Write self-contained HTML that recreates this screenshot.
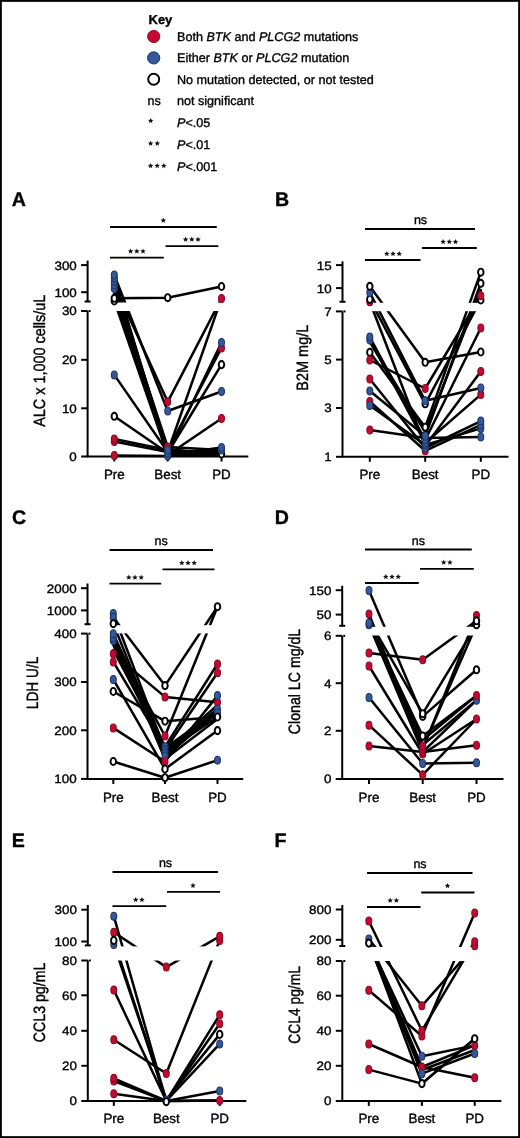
<!DOCTYPE html><html><head><meta charset="utf-8"><style>html,body{margin:0;padding:0;background:#fff}svg{display:block;will-change:transform}text{stroke:#000;stroke-width:0.35px}</style></head><body><svg width="520" height="1138" viewBox="0 0 520 1138" font-family="'Liberation Sans', sans-serif" text-rendering="geometricPrecision"><rect x="0" y="0" width="520" height="1138" fill="#fff"/><rect x="0.9" y="0.9" width="518.2" height="1136.2" fill="none" stroke="#000" stroke-width="1.9"/><text x="148.5" y="23.5" font-size="13" font-weight="bold">Key</text><circle cx="153.7" cy="36.5" r="6.1" fill="#c20a32" stroke="#8a0a22" stroke-width="1"/><circle cx="153.7" cy="57.9" r="6.1" fill="#35589a" stroke="#1f3566" stroke-width="1"/><circle cx="153.7" cy="79.3" r="5.5" fill="#fff" stroke="#000" stroke-width="1.9"/><text x="177" y="40.8" font-size="12.6">Both <tspan font-style="italic">BTK</tspan> and <tspan font-style="italic">PLCG2</tspan> mutations</text><text x="177" y="62.3" font-size="12.6">Either <tspan font-style="italic">BTK</tspan> or <tspan font-style="italic">PLCG2</tspan> mutation</text><text x="177" y="83.8" font-size="12.6">No mutation detected, or not tested</text><text x="147.5" y="105.4" font-size="12.6">ns</text><text x="177" y="105.4" font-size="12.6">not significant</text><polygon points="150.70,117.90 151.47,119.74 153.46,119.90 151.94,121.20 152.40,123.15 150.70,122.11 149.00,123.15 149.46,121.20 147.94,119.90 149.93,119.74" fill="#111"/><text x="177" y="126.6" font-size="12.6"><tspan font-style="italic">P</tspan>&lt;.05</text><polygon points="150.60,140.60 151.37,142.44 153.36,142.60 151.84,143.90 152.30,145.85 150.60,144.81 148.90,145.85 149.36,143.90 147.84,142.60 149.83,142.44" fill="#111"/><polygon points="157.30,140.60 158.07,142.44 160.06,142.60 158.54,143.90 159.00,145.85 157.30,144.81 155.60,145.85 156.06,143.90 154.54,142.60 156.53,142.44" fill="#111"/><text x="177" y="148.8" font-size="12.6"><tspan font-style="italic">P</tspan>&lt;.01</text><polygon points="150.60,162.90 151.37,164.74 153.36,164.90 151.84,166.20 152.30,168.15 150.60,167.11 148.90,168.15 149.36,166.20 147.84,164.90 149.83,164.74" fill="#111"/><polygon points="157.20,162.90 157.97,164.74 159.96,164.90 158.44,166.20 158.90,168.15 157.20,167.11 155.50,168.15 155.96,166.20 154.44,164.90 156.43,164.74" fill="#111"/><polygon points="163.80,162.90 164.57,164.74 166.56,164.90 165.04,166.20 165.50,168.15 163.80,167.11 162.10,168.15 162.56,166.20 161.04,164.90 163.03,164.74" fill="#111"/><text x="177" y="171.2" font-size="12.6"><tspan font-style="italic">P</tspan>&lt;.001</text><text x="11.8" y="205.5" font-size="19.6" font-weight="bold">A</text><line x1="110" y1="227" x2="216.8" y2="227" stroke="#000" stroke-width="1.8"/><polygon points="163.30,217.60 164.07,219.44 166.06,219.60 164.54,220.90 165.00,222.85 163.30,221.81 161.60,222.85 162.06,220.90 160.54,219.60 162.53,219.44" fill="#111"/><line x1="165.5" y1="246.2" x2="218.3" y2="246.2" stroke="#000" stroke-width="1.8"/><polygon points="185.60,236.60 186.37,238.44 188.36,238.60 186.84,239.90 187.30,241.85 185.60,240.81 183.90,241.85 184.36,239.90 182.84,238.60 184.83,238.44" fill="#111"/><polygon points="191.80,236.60 192.57,238.44 194.56,238.60 193.04,239.90 193.50,241.85 191.80,240.81 190.10,241.85 190.56,239.90 189.04,238.60 191.03,238.44" fill="#111"/><polygon points="198.00,236.60 198.77,238.44 200.76,238.60 199.24,239.90 199.70,241.85 198.00,240.81 196.30,241.85 196.76,239.90 195.24,238.60 197.23,238.44" fill="#111"/><line x1="110" y1="257.6" x2="163.8" y2="257.6" stroke="#000" stroke-width="1.8"/><polygon points="130.60,248.40 131.37,250.24 133.36,250.40 131.84,251.70 132.30,253.65 130.60,252.61 128.90,253.65 129.36,251.70 127.84,250.40 129.83,250.24" fill="#111"/><polygon points="136.80,248.40 137.57,250.24 139.56,250.40 138.04,251.70 138.50,253.65 136.80,252.61 135.10,253.65 135.56,251.70 134.04,250.40 136.03,250.24" fill="#111"/><polygon points="143.00,248.40 143.77,250.24 145.76,250.40 144.24,251.70 144.70,253.65 143.00,252.61 141.30,253.65 141.76,251.70 140.24,250.40 142.23,250.24" fill="#111"/><g stroke="#000" stroke-width="2.5" fill="none" stroke-linejoin="round" stroke-linecap="round"><polyline points="114.3,275 167.7,411 221.5,391.5"/><polyline points="114.3,285 167.7,401.8 221.5,298.4"/><polyline points="114.3,277 167.7,452 221.5,298.4"/><polyline points="114.3,276 167.7,456 221.5,454"/><polyline points="114.3,280 167.7,454 221.5,342.5"/><polyline points="114.3,283 167.7,450 221.5,348"/><polyline points="114.3,285 167.7,447 221.5,450"/><polyline points="114.3,286 167.7,453 221.5,364.6"/><polyline points="114.3,289 167.7,455 221.5,418.5"/><polyline points="114.3,293 167.7,451 221.5,452"/><polyline points="114.3,296 167.7,449 221.5,455"/><polyline points="114.3,301 167.7,455 221.5,447.5"/><polyline points="114.3,298.3 167.7,297.7 221.5,286.5"/><polyline points="114.3,374.9 167.7,452 221.5,450"/><polyline points="114.3,416.3 167.7,453 221.5,452"/><polyline points="114.3,439 167.7,450 221.5,453"/><polyline points="114.3,441.5 167.7,452 221.5,455"/><polyline points="114.3,455.4 167.7,456 221.5,454"/></g><rect x="89.1" y="302.5" width="160.70000000000002" height="8.5" fill="#fff"/><g stroke="#000" stroke-width="2" fill="none"><line x1="87.6" y1="260.6" x2="87.6" y2="301.5"/><line x1="84.6" y1="301.5" x2="90.6" y2="301.5"/><line x1="87.6" y1="311" x2="87.6" y2="456.5"/><line x1="88.6" y1="311" x2="90.6" y2="311"/><line x1="86.6" y1="456.5" x2="248.3" y2="456.5"/><line x1="81.1" y1="265.1" x2="87.6" y2="265.1"/><line x1="81.1" y1="292.2" x2="87.6" y2="292.2"/><line x1="81.1" y1="311" x2="87.6" y2="311"/><line x1="81.1" y1="359.8" x2="87.6" y2="359.8"/><line x1="81.1" y1="408.3" x2="87.6" y2="408.3"/><line x1="81.1" y1="456.5" x2="87.6" y2="456.5"/><line x1="114.3" y1="456.5" x2="114.3" y2="461.5"/><line x1="167.7" y1="456.5" x2="167.7" y2="461.5"/><line x1="221.5" y1="456.5" x2="221.5" y2="461.5"/></g><text transform="translate(76.8,269.5) scale(1.1,1)" font-size="12.2" text-anchor="end">300</text><text transform="translate(76.8,296.59999999999997) scale(1.1,1)" font-size="12.2" text-anchor="end">100</text><text transform="translate(76.8,315.4) scale(1.1,1)" font-size="12.2" text-anchor="end">30</text><text transform="translate(76.8,364.2) scale(1.1,1)" font-size="12.2" text-anchor="end">20</text><text transform="translate(76.8,412.7) scale(1.1,1)" font-size="12.2" text-anchor="end">10</text><text transform="translate(76.8,460.9) scale(1.1,1)" font-size="12.2" text-anchor="end">0</text><text x="114.3" y="478.6" font-size="13.4" text-anchor="middle">Pre</text><text x="167.7" y="478.6" font-size="13.4" text-anchor="middle">Best</text><text x="221.5" y="478.6" font-size="13.4" text-anchor="middle">PD</text><text transform="translate(45.4,360.75) scale(1.12,1) rotate(-90)" font-size="14.6" text-anchor="middle" textLength="132" lengthAdjust="spacingAndGlyphs">ALC x 1,000 cells/uL</text><ellipse cx="114.3" cy="288.5" rx="2.95" ry="3.95" fill="#35589a" stroke="#1f3566" stroke-width="1.1"/><ellipse cx="114.3" cy="285" rx="2.95" ry="3.95" fill="#35589a" stroke="#1f3566" stroke-width="1.1"/><ellipse cx="114.3" cy="281.5" rx="2.95" ry="3.95" fill="#35589a" stroke="#1f3566" stroke-width="1.1"/><ellipse cx="114.3" cy="278" rx="2.95" ry="3.95" fill="#35589a" stroke="#1f3566" stroke-width="1.1"/><ellipse cx="114.3" cy="275" rx="2.95" ry="3.95" fill="#35589a" stroke="#1f3566" stroke-width="1.1"/><ellipse cx="114.3" cy="301" rx="2.75" ry="3.6" fill="#fff" stroke="#000" stroke-width="1.9"/><ellipse cx="114.3" cy="298.3" rx="2.75" ry="3.6" fill="#fff" stroke="#000" stroke-width="1.9"/><ellipse cx="167.7" cy="297.7" rx="2.75" ry="3.6" fill="#fff" stroke="#000" stroke-width="1.9"/><ellipse cx="221.5" cy="286.5" rx="2.75" ry="3.6" fill="#fff" stroke="#000" stroke-width="1.9"/><ellipse cx="221.5" cy="298.4" rx="2.95" ry="3.95" fill="#c20a32" stroke="#8a0a22" stroke-width="1.1"/><ellipse cx="114.3" cy="374.9" rx="2.95" ry="3.95" fill="#35589a" stroke="#1f3566" stroke-width="1.1"/><ellipse cx="114.3" cy="416.3" rx="2.75" ry="3.6" fill="#fff" stroke="#000" stroke-width="1.9"/><ellipse cx="114.3" cy="441.5" rx="2.95" ry="3.95" fill="#c20a32" stroke="#8a0a22" stroke-width="1.1"/><ellipse cx="114.3" cy="439" rx="2.95" ry="3.95" fill="#c20a32" stroke="#8a0a22" stroke-width="1.1"/><ellipse cx="114.3" cy="455.4" rx="2.95" ry="3.95" fill="#c20a32" stroke="#8a0a22" stroke-width="1.1"/><ellipse cx="167.7" cy="401.8" rx="2.95" ry="3.95" fill="#c20a32" stroke="#8a0a22" stroke-width="1.1"/><ellipse cx="167.7" cy="411" rx="2.95" ry="3.95" fill="#35589a" stroke="#1f3566" stroke-width="1.1"/><ellipse cx="167.7" cy="447" rx="2.95" ry="3.95" fill="#c20a32" stroke="#8a0a22" stroke-width="1.1"/><ellipse cx="167.7" cy="456" rx="2.95" ry="3.95" fill="#35589a" stroke="#1f3566" stroke-width="1.1"/><ellipse cx="167.7" cy="453" rx="2.95" ry="3.95" fill="#35589a" stroke="#1f3566" stroke-width="1.1"/><ellipse cx="167.7" cy="450" rx="2.95" ry="3.95" fill="#35589a" stroke="#1f3566" stroke-width="1.1"/><ellipse cx="221.5" cy="348" rx="2.95" ry="3.95" fill="#c20a32" stroke="#8a0a22" stroke-width="1.1"/><ellipse cx="221.5" cy="342.5" rx="2.95" ry="3.95" fill="#35589a" stroke="#1f3566" stroke-width="1.1"/><ellipse cx="221.5" cy="364.6" rx="2.75" ry="3.6" fill="#fff" stroke="#000" stroke-width="1.9"/><ellipse cx="221.5" cy="391.5" rx="2.95" ry="3.95" fill="#35589a" stroke="#1f3566" stroke-width="1.1"/><ellipse cx="221.5" cy="418.5" rx="2.95" ry="3.95" fill="#c20a32" stroke="#8a0a22" stroke-width="1.1"/><ellipse cx="221.5" cy="454" rx="2.75" ry="3.6" fill="#fff" stroke="#000" stroke-width="1.9"/><ellipse cx="221.5" cy="450" rx="2.95" ry="3.95" fill="#35589a" stroke="#1f3566" stroke-width="1.1"/><ellipse cx="221.5" cy="447.5" rx="2.95" ry="3.95" fill="#35589a" stroke="#1f3566" stroke-width="1.1"/><text x="275.0" y="205.5" font-size="19.6" font-weight="bold">B</text><line x1="365" y1="229" x2="475" y2="229" stroke="#000" stroke-width="1.8"/><text x="420.5" y="223.8" font-size="12.5" text-anchor="middle">ns</text><line x1="422" y1="248" x2="476.8" y2="248" stroke="#000" stroke-width="1.8"/><polygon points="443.10,238.90 443.87,240.74 445.86,240.90 444.34,242.20 444.80,244.15 443.10,243.11 441.40,244.15 441.86,242.20 440.34,240.90 442.33,240.74" fill="#111"/><polygon points="449.30,238.90 450.07,240.74 452.06,240.90 450.54,242.20 451.00,244.15 449.30,243.11 447.60,244.15 448.06,242.20 446.54,240.90 448.53,240.74" fill="#111"/><polygon points="455.50,238.90 456.27,240.74 458.26,240.90 456.74,242.20 457.20,244.15 455.50,243.11 453.80,244.15 454.26,242.20 452.74,240.90 454.73,240.74" fill="#111"/><line x1="365" y1="260" x2="420.5" y2="260" stroke="#000" stroke-width="1.8"/><polygon points="386.80,250.90 387.57,252.74 389.56,252.90 388.04,254.20 388.50,256.15 386.80,255.11 385.10,256.15 385.56,254.20 384.04,252.90 386.03,252.74" fill="#111"/><polygon points="393.00,250.90 393.77,252.74 395.76,252.90 394.24,254.20 394.70,256.15 393.00,255.11 391.30,256.15 391.76,254.20 390.24,252.90 392.23,252.74" fill="#111"/><polygon points="399.20,250.90 399.97,252.74 401.96,252.90 400.44,254.20 400.90,256.15 399.20,255.11 397.50,256.15 397.96,254.20 396.44,252.90 398.43,252.74" fill="#111"/><g stroke="#000" stroke-width="2.5" fill="none" stroke-linejoin="round" stroke-linecap="round"><polyline points="369.8,286.3 425.2,362.3 480.8,352"/><polyline points="369.8,292.6 425.2,400.8 480.8,388"/><polyline points="369.8,299.3 425.2,403.8 480.8,300"/><polyline points="369.8,301.7 425.2,446 480.8,371.5"/><polyline points="369.8,337 425.2,440 480.8,328"/><polyline points="369.8,342 425.2,432 480.8,290"/><polyline points="369.8,340 425.2,443 480.8,394.6"/><polyline points="369.8,352.3 425.2,427.2 480.8,272.2"/><polyline points="369.8,360 425.2,388.5 480.8,295.7"/><polyline points="369.8,379 425.2,448 480.8,421.1"/><polyline points="369.8,391 425.2,436 480.8,283.3"/><polyline points="369.8,401.5 425.2,450.8 480.8,424.9"/><polyline points="369.8,405.4 425.2,445 480.8,428.4"/><polyline points="369.8,430 425.2,438 480.8,437"/></g><rect x="344.0" y="302.8" width="166.0" height="8.399999999999977" fill="#fff"/><g stroke="#000" stroke-width="2" fill="none"><line x1="342.5" y1="261.4" x2="342.5" y2="301.8"/><line x1="339.5" y1="301.8" x2="345.5" y2="301.8"/><line x1="342.5" y1="311.4" x2="342.5" y2="456.8"/><line x1="343.5" y1="311.4" x2="345.5" y2="311.4"/><line x1="341.5" y1="456.8" x2="508.5" y2="456.8"/><line x1="336.0" y1="265.1" x2="342.5" y2="265.1"/><line x1="336.0" y1="288.1" x2="342.5" y2="288.1"/><line x1="336.0" y1="311.4" x2="342.5" y2="311.4"/><line x1="336.0" y1="359.6" x2="342.5" y2="359.6"/><line x1="336.0" y1="408" x2="342.5" y2="408"/><line x1="336.0" y1="456.8" x2="342.5" y2="456.8"/><line x1="369.8" y1="456.8" x2="369.8" y2="461.8"/><line x1="425.2" y1="456.8" x2="425.2" y2="461.8"/><line x1="480.8" y1="456.8" x2="480.8" y2="461.8"/></g><text transform="translate(331.7,269.5) scale(1.1,1)" font-size="12.2" text-anchor="end">15</text><text transform="translate(331.7,292.5) scale(1.1,1)" font-size="12.2" text-anchor="end">10</text><text transform="translate(331.7,315.79999999999995) scale(1.1,1)" font-size="12.2" text-anchor="end">7</text><text transform="translate(331.7,364.0) scale(1.1,1)" font-size="12.2" text-anchor="end">5</text><text transform="translate(331.7,412.4) scale(1.1,1)" font-size="12.2" text-anchor="end">3</text><text transform="translate(331.7,461.2) scale(1.1,1)" font-size="12.2" text-anchor="end">1</text><text x="369.8" y="478.6" font-size="13.4" text-anchor="middle">Pre</text><text x="425.2" y="478.6" font-size="13.4" text-anchor="middle">Best</text><text x="480.8" y="478.6" font-size="13.4" text-anchor="middle">PD</text><text transform="translate(307.5,357.7) scale(1.12,1) rotate(-90)" font-size="14.6" text-anchor="middle" textLength="66" lengthAdjust="spacingAndGlyphs">B2M mg/L</text><ellipse cx="369.8" cy="301.7" rx="2.95" ry="3.95" fill="#c20a32" stroke="#8a0a22" stroke-width="1.1"/><ellipse cx="369.8" cy="299.3" rx="2.75" ry="3.6" fill="#fff" stroke="#000" stroke-width="1.9"/><ellipse cx="369.8" cy="292.6" rx="2.95" ry="3.95" fill="#35589a" stroke="#1f3566" stroke-width="1.1"/><ellipse cx="369.8" cy="286.3" rx="2.75" ry="3.6" fill="#fff" stroke="#000" stroke-width="1.9"/><ellipse cx="480.8" cy="300" rx="2.75" ry="3.6" fill="#fff" stroke="#000" stroke-width="1.9"/><ellipse cx="480.8" cy="295.7" rx="2.95" ry="3.95" fill="#c20a32" stroke="#8a0a22" stroke-width="1.1"/><ellipse cx="480.8" cy="283.3" rx="2.75" ry="3.6" fill="#fff" stroke="#000" stroke-width="1.9"/><ellipse cx="480.8" cy="272.2" rx="2.75" ry="3.6" fill="#fff" stroke="#000" stroke-width="1.9"/><ellipse cx="369.8" cy="340" rx="2.95" ry="3.95" fill="#35589a" stroke="#1f3566" stroke-width="1.1"/><ellipse cx="369.8" cy="337" rx="2.95" ry="3.95" fill="#35589a" stroke="#1f3566" stroke-width="1.1"/><ellipse cx="369.8" cy="352.3" rx="2.75" ry="3.6" fill="#fff" stroke="#000" stroke-width="1.9"/><ellipse cx="369.8" cy="360" rx="2.95" ry="3.95" fill="#c20a32" stroke="#8a0a22" stroke-width="1.1"/><ellipse cx="369.8" cy="379" rx="2.95" ry="3.95" fill="#c20a32" stroke="#8a0a22" stroke-width="1.1"/><ellipse cx="369.8" cy="391" rx="2.95" ry="3.95" fill="#35589a" stroke="#1f3566" stroke-width="1.1"/><ellipse cx="369.8" cy="401.5" rx="2.95" ry="3.95" fill="#c20a32" stroke="#8a0a22" stroke-width="1.1"/><ellipse cx="369.8" cy="405.4" rx="2.95" ry="3.95" fill="#35589a" stroke="#1f3566" stroke-width="1.1"/><ellipse cx="369.8" cy="430" rx="2.95" ry="3.95" fill="#c20a32" stroke="#8a0a22" stroke-width="1.1"/><ellipse cx="425.2" cy="362.3" rx="2.75" ry="3.6" fill="#fff" stroke="#000" stroke-width="1.9"/><ellipse cx="425.2" cy="388.5" rx="2.95" ry="3.95" fill="#c20a32" stroke="#8a0a22" stroke-width="1.1"/><ellipse cx="425.2" cy="403.8" rx="2.75" ry="3.6" fill="#fff" stroke="#000" stroke-width="1.9"/><ellipse cx="425.2" cy="400.8" rx="2.95" ry="3.95" fill="#35589a" stroke="#1f3566" stroke-width="1.1"/><ellipse cx="425.2" cy="427.2" rx="2.75" ry="3.6" fill="#fff" stroke="#000" stroke-width="1.9"/><ellipse cx="425.2" cy="450.8" rx="2.95" ry="3.95" fill="#c20a32" stroke="#8a0a22" stroke-width="1.1"/><ellipse cx="425.2" cy="448" rx="2.95" ry="3.95" fill="#35589a" stroke="#1f3566" stroke-width="1.1"/><ellipse cx="425.2" cy="445" rx="2.95" ry="3.95" fill="#35589a" stroke="#1f3566" stroke-width="1.1"/><ellipse cx="425.2" cy="443" rx="2.95" ry="3.95" fill="#35589a" stroke="#1f3566" stroke-width="1.1"/><ellipse cx="425.2" cy="440" rx="2.95" ry="3.95" fill="#35589a" stroke="#1f3566" stroke-width="1.1"/><ellipse cx="425.2" cy="436" rx="2.95" ry="3.95" fill="#35589a" stroke="#1f3566" stroke-width="1.1"/><ellipse cx="480.8" cy="328" rx="2.95" ry="3.95" fill="#c20a32" stroke="#8a0a22" stroke-width="1.1"/><ellipse cx="480.8" cy="352" rx="2.75" ry="3.6" fill="#fff" stroke="#000" stroke-width="1.9"/><ellipse cx="480.8" cy="371.5" rx="2.95" ry="3.95" fill="#c20a32" stroke="#8a0a22" stroke-width="1.1"/><ellipse cx="480.8" cy="394.6" rx="2.95" ry="3.95" fill="#c20a32" stroke="#8a0a22" stroke-width="1.1"/><ellipse cx="480.8" cy="388" rx="2.95" ry="3.95" fill="#35589a" stroke="#1f3566" stroke-width="1.1"/><ellipse cx="480.8" cy="437" rx="2.95" ry="3.95" fill="#35589a" stroke="#1f3566" stroke-width="1.1"/><ellipse cx="480.8" cy="428.4" rx="2.95" ry="3.95" fill="#35589a" stroke="#1f3566" stroke-width="1.1"/><ellipse cx="480.8" cy="424.9" rx="2.95" ry="3.95" fill="#35589a" stroke="#1f3566" stroke-width="1.1"/><ellipse cx="480.8" cy="421.1" rx="2.95" ry="3.95" fill="#35589a" stroke="#1f3566" stroke-width="1.1"/><text x="11.9" y="524.0" font-size="19.6" font-weight="bold">C</text><line x1="109.5" y1="550" x2="213" y2="550" stroke="#000" stroke-width="1.8"/><text x="161.2" y="544.5" font-size="12.5" text-anchor="middle">ns</text><line x1="162.5" y1="569.3" x2="214.5" y2="569.3" stroke="#000" stroke-width="1.8"/><polygon points="181.80,560.10 182.57,561.94 184.56,562.10 183.04,563.40 183.50,565.35 181.80,564.30 180.10,565.35 180.56,563.40 179.04,562.10 181.03,561.94" fill="#111"/><polygon points="188.00,560.10 188.77,561.94 190.76,562.10 189.24,563.40 189.70,565.35 188.00,564.30 186.30,565.35 186.76,563.40 185.24,562.10 187.23,561.94" fill="#111"/><polygon points="194.20,560.10 194.97,561.94 196.96,562.10 195.44,563.40 195.90,565.35 194.20,564.30 192.50,565.35 192.96,563.40 191.44,562.10 193.43,561.94" fill="#111"/><line x1="109.5" y1="583.7" x2="161.2" y2="583.7" stroke="#000" stroke-width="1.8"/><polygon points="128.80,574.60 129.57,576.44 131.56,576.60 130.04,577.90 130.50,579.85 128.80,578.80 127.10,579.85 127.56,577.90 126.04,576.60 128.03,576.44" fill="#111"/><polygon points="135.00,574.60 135.77,576.44 137.76,576.60 136.24,577.90 136.70,579.85 135.00,578.80 133.30,579.85 133.76,577.90 132.24,576.60 134.23,576.44" fill="#111"/><polygon points="141.20,574.60 141.97,576.44 143.96,576.60 142.44,577.90 142.90,579.85 141.20,578.80 139.50,579.85 139.96,577.90 138.44,576.60 140.43,576.44" fill="#111"/><g stroke="#000" stroke-width="2.5" fill="none" stroke-linejoin="round" stroke-linecap="round"><polyline points="113.3,613.5 165.0,750 217.5,672.7"/><polyline points="113.3,617.5 165.0,685.6 217.5,606.7"/><polyline points="113.3,623.7 165.0,753 217.5,709"/><polyline points="113.3,633.7 165.0,746.7 217.5,664"/><polyline points="113.3,637.7 165.0,756 217.5,713"/><polyline points="113.3,640.4 165.0,736 217.5,606.7"/><polyline points="113.3,653.8 165.0,696.9 217.5,702.3"/><polyline points="113.3,661.9 165.0,748 217.5,713"/><polyline points="113.3,679.4 165.0,769 217.5,730.6"/><polyline points="113.3,691.5 165.0,721.2 217.5,717"/><polyline points="113.3,727.9 165.0,761.5 217.5,695.6"/><polyline points="113.3,761.5 165.0,777.7 217.5,760.2"/><polyline points="113.3,636 165.0,752 217.5,717"/><polyline points="113.3,639 165.0,758 217.5,709"/><polyline points="113.3,645 165.0,752 217.5,705"/><polyline points="113.3,650 165.0,748 217.5,711"/><polyline points="113.3,635 165.0,759 217.5,719"/></g><rect x="89.0" y="625.2" width="155.7" height="8.199999999999932" fill="#fff"/><g stroke="#000" stroke-width="2" fill="none"><line x1="87.5" y1="583.5" x2="87.5" y2="624.2"/><line x1="84.5" y1="624.2" x2="90.5" y2="624.2"/><line x1="87.5" y1="633.6" x2="87.5" y2="778.9"/><line x1="88.5" y1="633.6" x2="90.5" y2="633.6"/><line x1="86.5" y1="778.9" x2="243.2" y2="778.9"/><line x1="81.0" y1="588.2" x2="87.5" y2="588.2"/><line x1="81.0" y1="610.4" x2="87.5" y2="610.4"/><line x1="81.0" y1="633.6" x2="87.5" y2="633.6"/><line x1="81.0" y1="682" x2="87.5" y2="682"/><line x1="81.0" y1="730.3" x2="87.5" y2="730.3"/><line x1="81.0" y1="778.9" x2="87.5" y2="778.9"/><line x1="113.3" y1="778.9" x2="113.3" y2="783.9"/><line x1="165.0" y1="778.9" x2="165.0" y2="783.9"/><line x1="217.5" y1="778.9" x2="217.5" y2="783.9"/></g><text transform="translate(76.7,592.6) scale(1.1,1)" font-size="12.2" text-anchor="end">2000</text><text transform="translate(76.7,614.8) scale(1.1,1)" font-size="12.2" text-anchor="end">1000</text><text transform="translate(76.7,638.0) scale(1.1,1)" font-size="12.2" text-anchor="end">400</text><text transform="translate(76.7,686.4) scale(1.1,1)" font-size="12.2" text-anchor="end">300</text><text transform="translate(76.7,734.6999999999999) scale(1.1,1)" font-size="12.2" text-anchor="end">200</text><text transform="translate(76.7,783.3) scale(1.1,1)" font-size="12.2" text-anchor="end">100</text><text x="113.3" y="801.5" font-size="13.4" text-anchor="middle">Pre</text><text x="165.0" y="801.5" font-size="13.4" text-anchor="middle">Best</text><text x="217.5" y="801.5" font-size="13.4" text-anchor="middle">PD</text><text transform="translate(37.8,682.9) scale(1.12,1) rotate(-90)" font-size="14.6" text-anchor="middle" textLength="52.5" lengthAdjust="spacingAndGlyphs">LDH U/L</text><ellipse cx="113.3" cy="613.5" rx="2.95" ry="3.95" fill="#35589a" stroke="#1f3566" stroke-width="1.1"/><ellipse cx="113.3" cy="617.5" rx="2.95" ry="3.95" fill="#35589a" stroke="#1f3566" stroke-width="1.1"/><ellipse cx="113.3" cy="623.7" rx="2.75" ry="3.6" fill="#fff" stroke="#000" stroke-width="1.9"/><ellipse cx="113.3" cy="640.4" rx="2.95" ry="3.95" fill="#35589a" stroke="#1f3566" stroke-width="1.1"/><ellipse cx="113.3" cy="637.7" rx="2.95" ry="3.95" fill="#35589a" stroke="#1f3566" stroke-width="1.1"/><ellipse cx="113.3" cy="633.7" rx="2.95" ry="3.95" fill="#35589a" stroke="#1f3566" stroke-width="1.1"/><ellipse cx="113.3" cy="653.8" rx="2.95" ry="3.95" fill="#c20a32" stroke="#8a0a22" stroke-width="1.1"/><ellipse cx="113.3" cy="661.9" rx="2.95" ry="3.95" fill="#c20a32" stroke="#8a0a22" stroke-width="1.1"/><ellipse cx="113.3" cy="679.4" rx="2.95" ry="3.95" fill="#35589a" stroke="#1f3566" stroke-width="1.1"/><ellipse cx="113.3" cy="691.5" rx="2.75" ry="3.6" fill="#fff" stroke="#000" stroke-width="1.9"/><ellipse cx="113.3" cy="727.9" rx="2.95" ry="3.95" fill="#c20a32" stroke="#8a0a22" stroke-width="1.1"/><ellipse cx="113.3" cy="761.5" rx="2.75" ry="3.6" fill="#fff" stroke="#000" stroke-width="1.9"/><ellipse cx="165.0" cy="685.6" rx="2.75" ry="3.6" fill="#fff" stroke="#000" stroke-width="1.9"/><ellipse cx="165.0" cy="696.9" rx="2.95" ry="3.95" fill="#c20a32" stroke="#8a0a22" stroke-width="1.1"/><ellipse cx="165.0" cy="721.2" rx="2.75" ry="3.6" fill="#fff" stroke="#000" stroke-width="1.9"/><ellipse cx="165.0" cy="736" rx="2.95" ry="3.95" fill="#c20a32" stroke="#8a0a22" stroke-width="1.1"/><ellipse cx="165.0" cy="746.7" rx="2.95" ry="3.95" fill="#35589a" stroke="#1f3566" stroke-width="1.1"/><ellipse cx="165.0" cy="750" rx="2.95" ry="3.95" fill="#35589a" stroke="#1f3566" stroke-width="1.1"/><ellipse cx="165.0" cy="753" rx="2.95" ry="3.95" fill="#35589a" stroke="#1f3566" stroke-width="1.1"/><ellipse cx="165.0" cy="756" rx="2.95" ry="3.95" fill="#35589a" stroke="#1f3566" stroke-width="1.1"/><ellipse cx="165.0" cy="761.5" rx="2.95" ry="3.95" fill="#c20a32" stroke="#8a0a22" stroke-width="1.1"/><ellipse cx="165.0" cy="769" rx="2.75" ry="3.6" fill="#fff" stroke="#000" stroke-width="1.9"/><ellipse cx="165.0" cy="777.7" rx="2.75" ry="3.6" fill="#fff" stroke="#000" stroke-width="1.9"/><ellipse cx="217.5" cy="606.7" rx="2.75" ry="3.6" fill="#fff" stroke="#000" stroke-width="1.9"/><ellipse cx="217.5" cy="672.7" rx="2.95" ry="3.95" fill="#c20a32" stroke="#8a0a22" stroke-width="1.1"/><ellipse cx="217.5" cy="664" rx="2.95" ry="3.95" fill="#c20a32" stroke="#8a0a22" stroke-width="1.1"/><ellipse cx="217.5" cy="702.3" rx="2.95" ry="3.95" fill="#c20a32" stroke="#8a0a22" stroke-width="1.1"/><ellipse cx="217.5" cy="695.6" rx="2.95" ry="3.95" fill="#35589a" stroke="#1f3566" stroke-width="1.1"/><ellipse cx="217.5" cy="709" rx="2.95" ry="3.95" fill="#35589a" stroke="#1f3566" stroke-width="1.1"/><ellipse cx="217.5" cy="713" rx="2.95" ry="3.95" fill="#35589a" stroke="#1f3566" stroke-width="1.1"/><ellipse cx="217.5" cy="717" rx="2.75" ry="3.6" fill="#fff" stroke="#000" stroke-width="1.9"/><ellipse cx="217.5" cy="730.6" rx="2.75" ry="3.6" fill="#fff" stroke="#000" stroke-width="1.9"/><ellipse cx="217.5" cy="760.2" rx="2.95" ry="3.95" fill="#35589a" stroke="#1f3566" stroke-width="1.1"/><text x="274.8" y="524.3" font-size="19.6" font-weight="bold">D</text><line x1="365" y1="549.5" x2="471.8" y2="549.5" stroke="#000" stroke-width="1.8"/><text x="418.3" y="544.5" font-size="12.5" text-anchor="middle">ns</text><line x1="420" y1="568.8" x2="473.8" y2="568.8" stroke="#000" stroke-width="1.8"/><polygon points="443.70,559.60 444.47,561.44 446.46,561.60 444.94,562.90 445.40,564.85 443.70,563.80 442.00,564.85 442.46,562.90 440.94,561.60 442.93,561.44" fill="#111"/><polygon points="449.90,559.60 450.67,561.44 452.66,561.60 451.14,562.90 451.60,564.85 449.90,563.80 448.20,564.85 448.66,562.90 447.14,561.60 449.13,561.44" fill="#111"/><line x1="365" y1="583" x2="418.8" y2="583" stroke="#000" stroke-width="1.8"/><polygon points="385.80,573.90 386.57,575.74 388.56,575.90 387.04,577.20 387.50,579.15 385.80,578.10 384.10,579.15 384.56,577.20 383.04,575.90 385.03,575.74" fill="#111"/><polygon points="392.00,573.90 392.77,575.74 394.76,575.90 393.24,577.20 393.70,579.15 392.00,578.10 390.30,579.15 390.76,577.20 389.24,575.90 391.23,575.74" fill="#111"/><polygon points="398.20,573.90 398.97,575.74 400.96,575.90 399.44,577.20 399.90,579.15 398.20,578.10 396.50,579.15 396.96,577.20 395.44,575.90 397.43,575.74" fill="#111"/><g stroke="#000" stroke-width="2.5" fill="none" stroke-linejoin="round" stroke-linecap="round"><polyline points="369.0,590.6 422.7,716.4 476.5,669.8"/><polyline points="369.0,614 422.7,749 476.5,615.4"/><polyline points="369.0,622.9 422.7,736 476.5,695.6"/><polyline points="369.0,624.8 422.7,752 476.5,700.2"/><polyline points="369.0,620 422.7,713.7 476.5,624.8"/><polyline points="369.0,653 422.7,659.8 476.5,620.8"/><polyline points="369.0,666 422.7,754 476.5,719"/><polyline points="369.0,697.5 422.7,763.5 476.5,762.7"/><polyline points="369.0,725.2 422.7,774.8 476.5,719"/><polyline points="369.0,746 422.7,752 476.5,745.2"/><polyline points="369.0,622 422.7,740 476.5,695.6"/><polyline points="369.0,624 422.7,745 476.5,700.2"/><polyline points="369.0,618 422.7,748 476.5,624.8"/></g><rect x="343.7" y="626.8" width="161.3" height="8.700000000000045" fill="#fff"/><g stroke="#000" stroke-width="2" fill="none"><line x1="342.2" y1="585.7" x2="342.2" y2="625.8"/><line x1="339.2" y1="625.8" x2="345.2" y2="625.8"/><line x1="342.2" y1="635.8" x2="342.2" y2="779.0"/><line x1="343.2" y1="635.8" x2="345.2" y2="635.8"/><line x1="341.2" y1="779.0" x2="503.5" y2="779.0"/><line x1="335.7" y1="590.2" x2="342.2" y2="590.2"/><line x1="335.7" y1="614.6" x2="342.2" y2="614.6"/><line x1="335.7" y1="635.8" x2="342.2" y2="635.8"/><line x1="335.7" y1="683.2" x2="342.2" y2="683.2"/><line x1="335.7" y1="730.8" x2="342.2" y2="730.8"/><line x1="335.7" y1="779.0" x2="342.2" y2="779.0"/><line x1="369.0" y1="779.0" x2="369.0" y2="784.0"/><line x1="422.7" y1="779.0" x2="422.7" y2="784.0"/><line x1="476.5" y1="779.0" x2="476.5" y2="784.0"/></g><text transform="translate(331.4,594.6) scale(1.1,1)" font-size="12.2" text-anchor="end">150</text><text transform="translate(331.4,619.0) scale(1.1,1)" font-size="12.2" text-anchor="end">50</text><text transform="translate(331.4,640.1999999999999) scale(1.1,1)" font-size="12.2" text-anchor="end">6</text><text transform="translate(331.4,687.6) scale(1.1,1)" font-size="12.2" text-anchor="end">4</text><text transform="translate(331.4,735.1999999999999) scale(1.1,1)" font-size="12.2" text-anchor="end">2</text><text transform="translate(331.4,783.4) scale(1.1,1)" font-size="12.2" text-anchor="end">0</text><text x="369.0" y="801.5" font-size="13.4" text-anchor="middle">Pre</text><text x="422.7" y="801.5" font-size="13.4" text-anchor="middle">Best</text><text x="476.5" y="801.5" font-size="13.4" text-anchor="middle">PD</text><text transform="translate(299.8,681.5) scale(1.12,1) rotate(-90)" font-size="14.6" text-anchor="middle" textLength="105.5" lengthAdjust="spacingAndGlyphs">Clonal LC mg/dL</text><ellipse cx="369.0" cy="590.6" rx="2.95" ry="3.95" fill="#35589a" stroke="#1f3566" stroke-width="1.1"/><ellipse cx="369.0" cy="614" rx="2.95" ry="3.95" fill="#c20a32" stroke="#8a0a22" stroke-width="1.1"/><ellipse cx="369.0" cy="624.8" rx="2.95" ry="3.95" fill="#35589a" stroke="#1f3566" stroke-width="1.1"/><ellipse cx="369.0" cy="622.9" rx="2.95" ry="3.95" fill="#35589a" stroke="#1f3566" stroke-width="1.1"/><ellipse cx="369.0" cy="653" rx="2.95" ry="3.95" fill="#c20a32" stroke="#8a0a22" stroke-width="1.1"/><ellipse cx="369.0" cy="666" rx="2.95" ry="3.95" fill="#c20a32" stroke="#8a0a22" stroke-width="1.1"/><ellipse cx="369.0" cy="697.5" rx="2.95" ry="3.95" fill="#35589a" stroke="#1f3566" stroke-width="1.1"/><ellipse cx="369.0" cy="725.2" rx="2.95" ry="3.95" fill="#c20a32" stroke="#8a0a22" stroke-width="1.1"/><ellipse cx="369.0" cy="746" rx="2.95" ry="3.95" fill="#c20a32" stroke="#8a0a22" stroke-width="1.1"/><ellipse cx="422.7" cy="659.8" rx="2.95" ry="3.95" fill="#c20a32" stroke="#8a0a22" stroke-width="1.1"/><ellipse cx="422.7" cy="716.4" rx="2.75" ry="3.6" fill="#fff" stroke="#000" stroke-width="1.9"/><ellipse cx="422.7" cy="713.7" rx="2.75" ry="3.6" fill="#fff" stroke="#000" stroke-width="1.9"/><ellipse cx="422.7" cy="736" rx="2.75" ry="3.6" fill="#fff" stroke="#000" stroke-width="1.9"/><ellipse cx="422.7" cy="754" rx="2.95" ry="3.95" fill="#c20a32" stroke="#8a0a22" stroke-width="1.1"/><ellipse cx="422.7" cy="752" rx="2.95" ry="3.95" fill="#c20a32" stroke="#8a0a22" stroke-width="1.1"/><ellipse cx="422.7" cy="749" rx="2.95" ry="3.95" fill="#c20a32" stroke="#8a0a22" stroke-width="1.1"/><ellipse cx="422.7" cy="746" rx="2.95" ry="3.95" fill="#c20a32" stroke="#8a0a22" stroke-width="1.1"/><ellipse cx="422.7" cy="763.5" rx="2.95" ry="3.95" fill="#35589a" stroke="#1f3566" stroke-width="1.1"/><ellipse cx="422.7" cy="774.8" rx="2.95" ry="3.95" fill="#c20a32" stroke="#8a0a22" stroke-width="1.1"/><ellipse cx="476.5" cy="615.4" rx="2.95" ry="3.95" fill="#c20a32" stroke="#8a0a22" stroke-width="1.1"/><ellipse cx="476.5" cy="624.8" rx="2.75" ry="3.6" fill="#fff" stroke="#000" stroke-width="1.9"/><ellipse cx="476.5" cy="620.8" rx="2.75" ry="3.6" fill="#fff" stroke="#000" stroke-width="1.9"/><ellipse cx="476.5" cy="669.8" rx="2.75" ry="3.6" fill="#fff" stroke="#000" stroke-width="1.9"/><ellipse cx="476.5" cy="700.2" rx="2.95" ry="3.95" fill="#35589a" stroke="#1f3566" stroke-width="1.1"/><ellipse cx="476.5" cy="695.6" rx="2.95" ry="3.95" fill="#c20a32" stroke="#8a0a22" stroke-width="1.1"/><ellipse cx="476.5" cy="719" rx="2.95" ry="3.95" fill="#c20a32" stroke="#8a0a22" stroke-width="1.1"/><ellipse cx="476.5" cy="745.2" rx="2.95" ry="3.95" fill="#c20a32" stroke="#8a0a22" stroke-width="1.1"/><ellipse cx="476.5" cy="762.7" rx="2.95" ry="3.95" fill="#35589a" stroke="#1f3566" stroke-width="1.1"/><text x="11.8" y="846.6" font-size="19.6" font-weight="bold">E</text><line x1="112.5" y1="872" x2="218" y2="872" stroke="#000" stroke-width="1.8"/><text x="165.5" y="867" font-size="12.5" text-anchor="middle">ns</text><line x1="167" y1="891.8" x2="220" y2="891.8" stroke="#000" stroke-width="1.8"/><polygon points="193.00,882.70 193.77,884.54 195.76,884.70 194.24,886.00 194.70,887.95 193.00,886.90 191.30,887.95 191.76,886.00 190.24,884.70 192.23,884.54" fill="#111"/><line x1="112.5" y1="906.2" x2="166.2" y2="906.2" stroke="#000" stroke-width="1.8"/><polygon points="135.70,896.90 136.47,898.74 138.46,898.90 136.94,900.20 137.40,902.15 135.70,901.10 134.00,902.15 134.46,900.20 132.94,898.90 134.93,898.74" fill="#111"/><polygon points="141.90,896.90 142.67,898.74 144.66,898.90 143.14,900.20 143.60,902.15 141.90,901.10 140.20,902.15 140.66,900.20 139.14,898.90 141.13,898.74" fill="#111"/><g stroke="#000" stroke-width="2.5" fill="none" stroke-linejoin="round" stroke-linecap="round"><polyline points="113.8,916.2 166.3,1101 219.7,1023.7"/><polyline points="113.8,932.3 166.3,967.1 219.7,936.3"/><polyline points="113.8,940.4 166.3,1101 219.7,1014.8"/><polyline points="113.8,944.4 166.3,1100 219.7,1034.4"/><polyline points="113.8,990 166.3,1101 219.7,1043.9"/><polyline points="113.8,1039.8 166.3,1073.5 219.7,940.4"/><polyline points="113.8,1078.3 166.3,1101 219.7,1091"/><polyline points="113.8,1081 166.3,1101 219.7,1100.4"/><polyline points="113.8,1093.7 166.3,1101 219.7,1100.4"/></g><rect x="89.3" y="946.4" width="158.5" height="14.100000000000023" fill="#fff"/><g stroke="#000" stroke-width="2" fill="none"><line x1="87.8" y1="905" x2="87.8" y2="945.4"/><line x1="84.8" y1="945.4" x2="90.8" y2="945.4"/><line x1="87.8" y1="960.5" x2="87.8" y2="1100.9"/><line x1="88.8" y1="960.5" x2="90.8" y2="960.5"/><line x1="86.8" y1="1100.9" x2="246.3" y2="1100.9"/><line x1="81.3" y1="909.7" x2="87.8" y2="909.7"/><line x1="81.3" y1="941.5" x2="87.8" y2="941.5"/><line x1="81.3" y1="960.5" x2="87.8" y2="960.5"/><line x1="81.3" y1="995.3" x2="87.8" y2="995.3"/><line x1="81.3" y1="1030.8" x2="87.8" y2="1030.8"/><line x1="81.3" y1="1065.8" x2="87.8" y2="1065.8"/><line x1="81.3" y1="1101" x2="87.8" y2="1101"/><line x1="113.8" y1="1100.9" x2="113.8" y2="1105.9"/><line x1="166.3" y1="1100.9" x2="166.3" y2="1105.9"/><line x1="219.7" y1="1100.9" x2="219.7" y2="1105.9"/></g><text transform="translate(77.0,914.1) scale(1.1,1)" font-size="12.2" text-anchor="end">300</text><text transform="translate(77.0,945.9) scale(1.1,1)" font-size="12.2" text-anchor="end">100</text><text transform="translate(77.0,964.9) scale(1.1,1)" font-size="12.2" text-anchor="end">80</text><text transform="translate(77.0,999.6999999999999) scale(1.1,1)" font-size="12.2" text-anchor="end">60</text><text transform="translate(77.0,1035.2) scale(1.1,1)" font-size="12.2" text-anchor="end">40</text><text transform="translate(77.0,1070.2) scale(1.1,1)" font-size="12.2" text-anchor="end">20</text><text transform="translate(77.0,1105.4) scale(1.1,1)" font-size="12.2" text-anchor="end">0</text><text x="113.8" y="1123" font-size="13.4" text-anchor="middle">Pre</text><text x="166.3" y="1123" font-size="13.4" text-anchor="middle">Best</text><text x="219.7" y="1123" font-size="13.4" text-anchor="middle">PD</text><text transform="translate(45.4,1002.4) scale(1.12,1) rotate(-90)" font-size="14.6" text-anchor="middle" textLength="79.5" lengthAdjust="spacingAndGlyphs">CCL3 pg/mL</text><ellipse cx="113.8" cy="916.2" rx="2.95" ry="3.95" fill="#35589a" stroke="#1f3566" stroke-width="1.1"/><ellipse cx="113.8" cy="932.3" rx="2.95" ry="3.95" fill="#c20a32" stroke="#8a0a22" stroke-width="1.1"/><ellipse cx="113.8" cy="944.4" rx="2.95" ry="3.95" fill="#35589a" stroke="#1f3566" stroke-width="1.1"/><ellipse cx="113.8" cy="940.4" rx="2.75" ry="3.6" fill="#fff" stroke="#000" stroke-width="1.9"/><ellipse cx="113.8" cy="990" rx="2.95" ry="3.95" fill="#c20a32" stroke="#8a0a22" stroke-width="1.1"/><ellipse cx="113.8" cy="1039.8" rx="2.95" ry="3.95" fill="#c20a32" stroke="#8a0a22" stroke-width="1.1"/><ellipse cx="113.8" cy="1081" rx="2.95" ry="3.95" fill="#c20a32" stroke="#8a0a22" stroke-width="1.1"/><ellipse cx="113.8" cy="1078.3" rx="2.95" ry="3.95" fill="#c20a32" stroke="#8a0a22" stroke-width="1.1"/><ellipse cx="113.8" cy="1093.7" rx="2.95" ry="3.95" fill="#c20a32" stroke="#8a0a22" stroke-width="1.1"/><ellipse cx="166.3" cy="967.1" rx="2.95" ry="3.95" fill="#c20a32" stroke="#8a0a22" stroke-width="1.1"/><ellipse cx="166.3" cy="1073.5" rx="2.95" ry="3.95" fill="#c20a32" stroke="#8a0a22" stroke-width="1.1"/><ellipse cx="166.3" cy="1100" rx="2.95" ry="3.95" fill="#35589a" stroke="#1f3566" stroke-width="1.1"/><ellipse cx="166.3" cy="1101.7" rx="2.75" ry="3.6" fill="#fff" stroke="#000" stroke-width="1.9"/><ellipse cx="219.7" cy="940.4" rx="2.95" ry="3.95" fill="#c20a32" stroke="#8a0a22" stroke-width="1.1"/><ellipse cx="219.7" cy="936.3" rx="2.95" ry="3.95" fill="#c20a32" stroke="#8a0a22" stroke-width="1.1"/><ellipse cx="219.7" cy="1014.8" rx="2.95" ry="3.95" fill="#c20a32" stroke="#8a0a22" stroke-width="1.1"/><ellipse cx="219.7" cy="1023.7" rx="2.95" ry="3.95" fill="#c20a32" stroke="#8a0a22" stroke-width="1.1"/><ellipse cx="219.7" cy="1043.9" rx="2.95" ry="3.95" fill="#35589a" stroke="#1f3566" stroke-width="1.1"/><ellipse cx="219.7" cy="1034.4" rx="2.75" ry="3.6" fill="#fff" stroke="#000" stroke-width="1.9"/><ellipse cx="219.7" cy="1091" rx="2.95" ry="3.95" fill="#35589a" stroke="#1f3566" stroke-width="1.1"/><ellipse cx="219.7" cy="1100.4" rx="2.95" ry="3.95" fill="#c20a32" stroke="#8a0a22" stroke-width="1.1"/><text x="274.5" y="846.6" font-size="19.6" font-weight="bold">F</text><line x1="367" y1="873" x2="472.5" y2="873" stroke="#000" stroke-width="1.8"/><text x="420" y="868" font-size="12.5" text-anchor="middle">ns</text><line x1="421.2" y1="892.5" x2="474.5" y2="892.5" stroke="#000" stroke-width="1.8"/><polygon points="447.50,882.90 448.27,884.74 450.26,884.90 448.74,886.20 449.20,888.15 447.50,887.10 445.80,888.15 446.26,886.20 444.74,884.90 446.73,884.74" fill="#111"/><line x1="367" y1="907" x2="420.5" y2="907" stroke="#000" stroke-width="1.8"/><polygon points="390.20,897.60 390.97,899.44 392.96,899.60 391.44,900.90 391.90,902.85 390.20,901.80 388.50,902.85 388.96,900.90 387.44,899.60 389.43,899.44" fill="#111"/><polygon points="396.40,897.60 397.17,899.44 399.16,899.60 397.64,900.90 398.10,902.85 396.40,901.80 394.70,902.85 395.16,900.90 393.64,899.60 395.63,899.44" fill="#111"/><g stroke="#000" stroke-width="2.5" fill="none" stroke-linejoin="round" stroke-linecap="round"><polyline points="368.8,921 421.9,1030.6 474.7,941.7"/><polyline points="368.8,939 421.9,1005.8 474.7,945.8"/><polyline points="368.8,943.1 421.9,1073.7 474.7,1053.5"/><polyline points="368.8,940.5 421.9,1067 474.7,1045.4"/><polyline points="368.8,942 421.9,1083.6 474.7,1038.7"/><polyline points="368.8,990.2 421.9,1036 474.7,912.9"/><polyline points="368.8,1044 421.9,1067 474.7,1077.7"/><polyline points="368.8,941.5 421.9,1056.2 474.7,1045.4"/><polyline points="368.8,1069.6 421.9,1083.6 474.7,1038.7"/><polyline points="368.8,944 421.9,1070 474.7,1050"/></g><rect x="343.8" y="947" width="159.0" height="14" fill="#fff"/><g stroke="#000" stroke-width="2" fill="none"><line x1="342.3" y1="905" x2="342.3" y2="946"/><line x1="339.3" y1="946" x2="345.3" y2="946"/><line x1="342.3" y1="961" x2="342.3" y2="1100.9"/><line x1="343.3" y1="961" x2="345.3" y2="961"/><line x1="341.3" y1="1100.9" x2="501.3" y2="1100.9"/><line x1="335.8" y1="909.5" x2="342.3" y2="909.5"/><line x1="335.8" y1="939.8" x2="342.3" y2="939.8"/><line x1="335.8" y1="961" x2="342.3" y2="961"/><line x1="335.8" y1="995.7" x2="342.3" y2="995.7"/><line x1="335.8" y1="1030.8" x2="342.3" y2="1030.8"/><line x1="335.8" y1="1065.8" x2="342.3" y2="1065.8"/><line x1="335.8" y1="1101" x2="342.3" y2="1101"/><line x1="368.8" y1="1100.9" x2="368.8" y2="1105.9"/><line x1="421.9" y1="1100.9" x2="421.9" y2="1105.9"/><line x1="474.7" y1="1100.9" x2="474.7" y2="1105.9"/></g><text transform="translate(331.5,913.9) scale(1.1,1)" font-size="12.2" text-anchor="end">800</text><text transform="translate(331.5,944.1999999999999) scale(1.1,1)" font-size="12.2" text-anchor="end">200</text><text transform="translate(331.5,965.4) scale(1.1,1)" font-size="12.2" text-anchor="end">80</text><text transform="translate(331.5,1000.1) scale(1.1,1)" font-size="12.2" text-anchor="end">60</text><text transform="translate(331.5,1035.2) scale(1.1,1)" font-size="12.2" text-anchor="end">40</text><text transform="translate(331.5,1070.2) scale(1.1,1)" font-size="12.2" text-anchor="end">20</text><text transform="translate(331.5,1105.4) scale(1.1,1)" font-size="12.2" text-anchor="end">0</text><text x="368.8" y="1123" font-size="13.4" text-anchor="middle">Pre</text><text x="421.9" y="1123" font-size="13.4" text-anchor="middle">Best</text><text x="474.7" y="1123" font-size="13.4" text-anchor="middle">PD</text><text transform="translate(300.4,1004.9) scale(1.12,1) rotate(-90)" font-size="14.6" text-anchor="middle" textLength="77.5" lengthAdjust="spacingAndGlyphs">CCL4 pg/mL</text><ellipse cx="368.8" cy="921" rx="2.95" ry="3.95" fill="#c20a32" stroke="#8a0a22" stroke-width="1.1"/><ellipse cx="368.8" cy="939" rx="2.95" ry="3.95" fill="#35589a" stroke="#1f3566" stroke-width="1.1"/><ellipse cx="368.8" cy="943.1" rx="2.75" ry="3.6" fill="#fff" stroke="#000" stroke-width="1.9"/><ellipse cx="368.8" cy="990.2" rx="2.95" ry="3.95" fill="#c20a32" stroke="#8a0a22" stroke-width="1.1"/><ellipse cx="368.8" cy="1044" rx="2.95" ry="3.95" fill="#c20a32" stroke="#8a0a22" stroke-width="1.1"/><ellipse cx="368.8" cy="1069.6" rx="2.95" ry="3.95" fill="#c20a32" stroke="#8a0a22" stroke-width="1.1"/><ellipse cx="421.9" cy="1005.8" rx="2.95" ry="3.95" fill="#c20a32" stroke="#8a0a22" stroke-width="1.1"/><ellipse cx="421.9" cy="1036" rx="2.95" ry="3.95" fill="#c20a32" stroke="#8a0a22" stroke-width="1.1"/><ellipse cx="421.9" cy="1030.6" rx="2.95" ry="3.95" fill="#c20a32" stroke="#8a0a22" stroke-width="1.1"/><ellipse cx="421.9" cy="1056.2" rx="2.95" ry="3.95" fill="#35589a" stroke="#1f3566" stroke-width="1.1"/><ellipse cx="421.9" cy="1067" rx="2.95" ry="3.95" fill="#c20a32" stroke="#8a0a22" stroke-width="1.1"/><ellipse cx="421.9" cy="1073.7" rx="2.95" ry="3.95" fill="#35589a" stroke="#1f3566" stroke-width="1.1"/><ellipse cx="421.9" cy="1083.6" rx="2.75" ry="3.6" fill="#fff" stroke="#000" stroke-width="1.9"/><ellipse cx="474.7" cy="912.9" rx="2.95" ry="3.95" fill="#c20a32" stroke="#8a0a22" stroke-width="1.1"/><ellipse cx="474.7" cy="945.8" rx="2.95" ry="3.95" fill="#c20a32" stroke="#8a0a22" stroke-width="1.1"/><ellipse cx="474.7" cy="941.7" rx="2.95" ry="3.95" fill="#c20a32" stroke="#8a0a22" stroke-width="1.1"/><ellipse cx="474.7" cy="1045.4" rx="2.95" ry="3.95" fill="#c20a32" stroke="#8a0a22" stroke-width="1.1"/><ellipse cx="474.7" cy="1053.5" rx="2.95" ry="3.95" fill="#35589a" stroke="#1f3566" stroke-width="1.1"/><ellipse cx="474.7" cy="1038.7" rx="2.75" ry="3.6" fill="#fff" stroke="#000" stroke-width="1.9"/><ellipse cx="474.7" cy="1077.7" rx="2.95" ry="3.95" fill="#c20a32" stroke="#8a0a22" stroke-width="1.1"/></svg></body></html>
